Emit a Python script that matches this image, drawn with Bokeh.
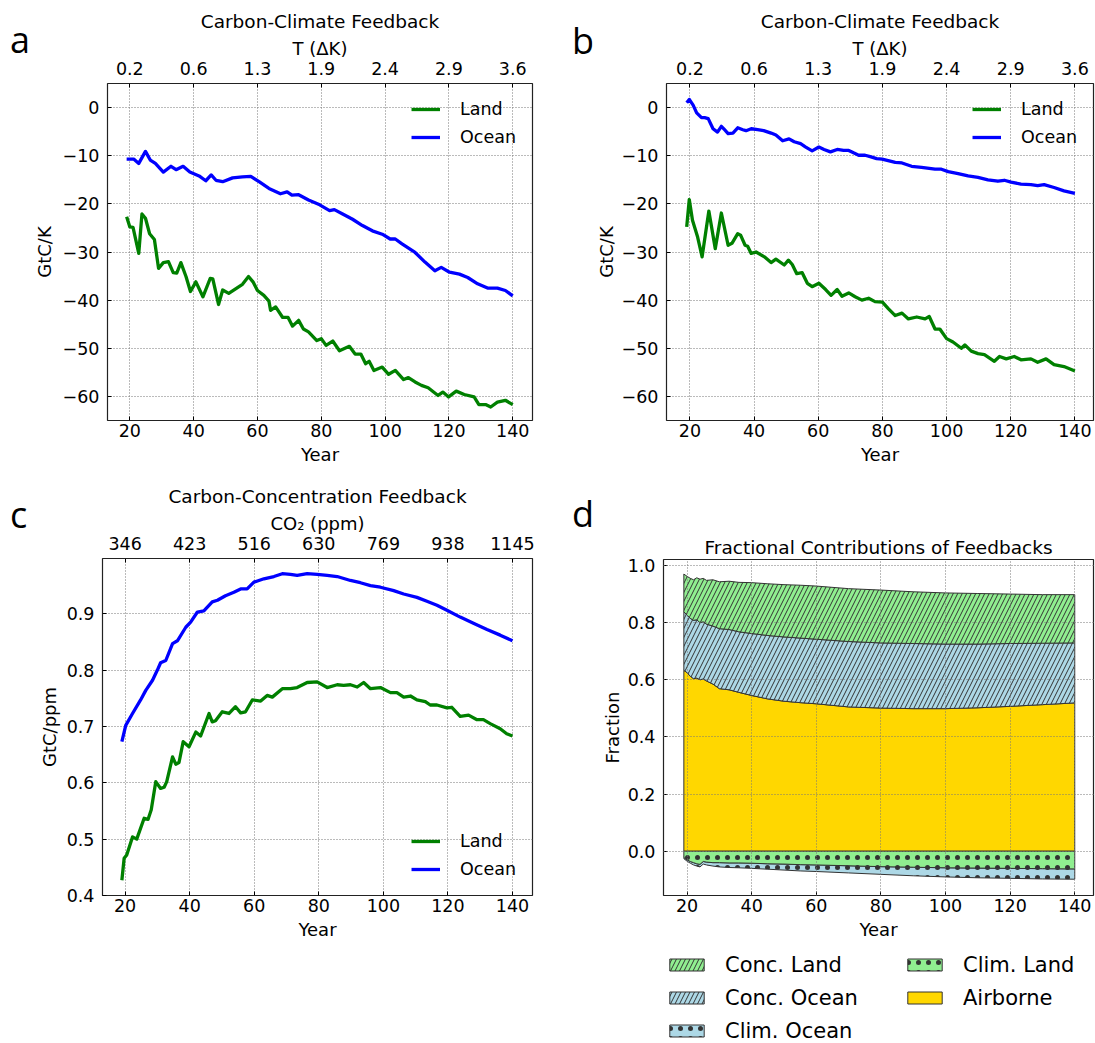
import numpy as np
from bokeh.plotting import figure
from bokeh.models import LinearAxis, FixedTicker, Legend, LegendItem, Range1d, Div
from bokeh.layouts import row, column
from bokeh.embed import file_html
from bokeh.resources import INLINE

FONT = "DejaVu Sans"
TICK_SIZE = "17.5px"
TITLE_SIZE = "18.5px"
LABEL_SIZE = "18px"

# ---------------- data ----------------
year_ticks = [20, 40, 60, 80, 100, 120, 140]
temp_tick_labels = ["0.2", "0.6", "1.3", "1.9", "2.4", "2.9", "3.6"]
co2_tick_labels = ["346", "423", "516", "630", "769", "938", "1145"]

# panel a (Carbon-Climate Feedback, GtC/K)
a_ocean_year = [19, 21.2, 22.8, 24.9, 26.4, 28.0, 30.5, 32.9, 34.5, 36.7, 38.8, 41.7, 43.8, 45.5, 47.0,
                49.1, 52.2, 55.3, 57.9, 60.5, 63.6, 67.2, 69.3, 70.8, 72.9, 76.0, 79.5, 82.6, 84.1, 86.7,
                89.8, 92.9, 96.0, 99.1, 101.6, 103.2, 105.3, 109.4, 112.5, 115.6, 117.6, 120.2, 123.3,
                125.9, 129.0, 132.1, 135.2, 137.7, 140.0]
a_ocean = [-10.7, -10.7, -11.6, -9.1, -10.9, -11.6, -13.4, -12.2, -12.9, -12.2, -13.4, -14.2, -15.2, -14.0,
           -15.1, -15.4, -14.6, -14.4, -14.3, -15.4, -16.8, -17.9, -17.5, -18.2, -18.1, -19.2, -20.2, -21.4,
           -21.2, -22.1, -23.2, -24.5, -25.6, -26.3, -27.3, -27.3, -28.3, -30.1, -32.1, -33.9, -33.2, -34.2,
           -34.6, -35.3, -36.6, -37.5, -37.5, -38.0, -39.1]
a_land_year = [19, 20, 21, 22.8, 23.8, 24.9, 26.2, 27.7, 29.0, 30.5, 32.1, 33.6, 34.7, 36.0, 37.6, 39.0,
               40.7, 42.9, 45.2, 46.0, 47.8, 49.1, 51.0, 55.3, 57.2, 58.6, 60.0, 62.0, 63.6, 64.1, 65.7,
               67.9, 69.6, 71.0, 72.9, 74.4, 76.0, 78.6, 80.0, 81.5, 83.6, 85.7, 88.8, 90.6, 92.4, 93.9,
               95.0, 96.5, 99.1, 101.1, 103.2, 105.8, 107.3, 109.4, 111.4, 113.5, 116.6, 118.1, 119.9,
               122.3, 124.8, 127.9, 129.4, 131.5, 133.1, 135.2, 137.7, 140.0]
a_land = [-22.7, -24.8, -24.9, -30.3, -22.1, -23.0, -26.2, -27.4, -33.4, -32.2, -32.0, -34.3, -34.4, -32.2,
          -35.1, -38.2, -36.2, -39.3, -35.5, -35.6, -40.9, -37.9, -38.6, -36.7, -35.1, -36.2, -38.0, -39.0,
          -40.2, -42.1, -41.4, -43.6, -43.6, -45.4, -44.2, -46.0, -46.6, -48.4, -48.0, -49.4, -48.5, -50.5,
          -49.6, -51.2, -51.2, -53.2, -52.7, -54.6, -53.9, -55.4, -54.6, -56.5, -56.1, -57.0, -57.7, -58.2,
          -59.8, -59.1, -60.1, -58.9, -59.6, -60.1, -61.7, -61.7, -62.2, -61.2, -60.8, -61.7]

# panel b (Carbon-Climate Feedback, GtC/K)
b_ocean_year = [19, 19.8, 21.0, 22.1, 23.6, 24.6, 25.7, 27.2, 28.6, 29.8, 30.8, 31.9, 33.4, 34.9, 36.5,
                37.5, 39.1, 41.1, 43.0, 45.3, 46.8, 48.9, 50.9, 52.5, 54.5, 56.1, 58.1, 60.2, 61.8, 63.8,
                65.9, 67.9, 69.5, 71.0, 72.6, 74.6, 76.2, 78.2, 79.9, 84.0, 86.1, 89.1, 92.2, 96.4, 98.4,
                100.5, 103.6, 106.7, 109.8, 112.9, 116.0, 118.0, 120.1, 123.2, 126.3, 128.4, 130.4, 133.5,
                136.6, 140.0]
b_ocean = [1.0, 1.7, 0.5, -1.1, -2.1, -2.1, -2.3, -4.4, -5.1, -3.9, -4.6, -5.4, -5.3, -4.2, -4.6, -4.8,
           -4.4, -4.6, -4.8, -5.3, -5.7, -6.9, -6.5, -7.1, -7.5, -8.2, -9.0, -8.2, -8.7, -9.2, -8.7, -8.9,
           -8.9, -9.4, -9.9, -9.9, -10.2, -10.6, -10.7, -11.4, -11.5, -12.2, -12.4, -12.8, -12.8, -13.3,
           -13.7, -14.2, -14.5, -15.0, -15.3, -15.1, -15.5, -15.9, -16.0, -16.2, -16.0, -16.6, -17.3, -17.8]
b_land_year = [19, 19.8, 20.8, 22.4, 23.8, 25.9, 27.9, 29.8, 31.9, 33.1, 34.9, 35.8, 37.2, 38.0, 39.1,
               40.6, 43.2, 45.3, 46.8, 49.4, 50.7, 51.9, 53.3, 55.0, 56.6, 58.1, 60.2, 62.3, 64.0, 65.9,
               67.4, 69.5, 71.5, 73.6, 75.7, 77.7, 80.0, 81.9, 84.0, 86.1, 88.1, 90.7, 93.3, 94.6, 96.4,
               97.9, 100.0, 102.0, 104.6, 105.7, 107.7, 109.8, 111.8, 114.9, 116.5, 118.6, 121.1, 123.2,
               126.3, 128.4, 131.0, 133.5, 136.6, 140.0]
b_land = [-24.8, -19.1, -23.4, -26.9, -31.0, -21.5, -29.3, -21.9, -28.6, -28.2, -26.2, -26.5, -28.6, -28.8,
          -30.3, -30.0, -31.0, -32.2, -31.5, -32.7, -31.7, -32.6, -34.5, -34.3, -36.5, -37.2, -36.5, -37.8,
          -39.0, -37.8, -39.2, -38.5, -39.3, -40.0, -39.6, -40.3, -40.4, -41.8, -43.2, -42.7, -43.9, -43.5,
          -43.9, -43.4, -46.0, -46.0, -48.0, -48.7, -50.0, -49.3, -50.6, -51.1, -51.3, -52.7, -51.7, -52.2,
          -51.7, -52.4, -52.2, -52.9, -52.2, -53.4, -53.8, -54.7]

# panel c (Carbon-Concentration Feedback, GtC/ppm)
c_ocean_year = [19, 20.2, 22.3, 24.8, 26.4, 28.5, 30.0, 31.0, 32.6, 34.7, 36.2, 38.8, 40.3, 42.4, 44.4,
                47.0, 48.6, 51.1, 53.7, 55.8, 57.8, 59.9, 63.0, 66.1, 68.7, 71.2, 73.3, 76.4, 79.5, 82.6,
                85.7, 89.8, 92.9, 96.0, 99.1, 103.2, 106.3, 110.4, 113.5, 116.6, 119.7, 123.8, 127.9,
                132.1, 136.2, 140.0]
c_ocean = [0.673, 0.702, 0.723, 0.747, 0.764, 0.782, 0.800, 0.813, 0.817, 0.847, 0.852, 0.876, 0.885,
           0.903, 0.905, 0.921, 0.924, 0.932, 0.938, 0.944, 0.944, 0.956, 0.962, 0.966, 0.971, 0.970,
           0.968, 0.971, 0.970, 0.968, 0.966, 0.959, 0.955, 0.950, 0.947, 0.941, 0.935, 0.929, 0.922,
           0.915, 0.906, 0.894, 0.883, 0.872, 0.862, 0.852]
c_land_year = [19, 19.7, 20.5, 22.3, 23.6, 25.9, 27.1, 28.1, 29.5, 31.0, 32.1, 32.9, 34.7, 35.7, 36.7,
               38.0, 39.8, 41.9, 43.4, 46.0, 47.0, 48.0, 50.1, 52.2, 54.2, 55.8, 57.3, 59.4, 62.0, 64.0,
               65.6, 68.7, 71.2, 73.3, 76.4, 79.5, 82.6, 85.7, 87.7, 89.8, 91.9, 93.9, 96.0, 99.1, 102.2,
               104.2, 106.3, 108.4, 110.4, 113.0, 114.5, 116.6, 119.7, 121.2, 123.8, 126.4, 129.0, 131.0,
               133.1, 136.2, 138.2, 140.0]
c_land = [0.427, 0.466, 0.472, 0.504, 0.500, 0.537, 0.535, 0.552, 0.602, 0.590, 0.592, 0.602, 0.646,
          0.633, 0.636, 0.673, 0.664, 0.690, 0.683, 0.723, 0.708, 0.710, 0.726, 0.723, 0.735, 0.724,
          0.726, 0.747, 0.745, 0.755, 0.752, 0.767, 0.767, 0.769, 0.778, 0.779, 0.769, 0.774, 0.773,
          0.774, 0.770, 0.778, 0.767, 0.769, 0.760, 0.760, 0.752, 0.754, 0.747, 0.744, 0.738, 0.738,
          0.733, 0.734, 0.718, 0.720, 0.712, 0.712, 0.705, 0.696, 0.687, 0.683]

# panel d (fractional contributions; stacked boundaries)
d_year = [19, 20, 21, 22, 23, 24, 25, 26, 28, 30, 33, 36, 40, 45, 50, 55, 60, 70, 80, 90, 100, 110,
          120, 130, 140]
d_airborne_top = [0.633, 0.625, 0.612, 0.604, 0.606, 0.600, 0.603, 0.596, 0.585, 0.569, 0.565, 0.556,
                  0.545, 0.533, 0.525, 0.520, 0.516, 0.505, 0.501, 0.499, 0.499, 0.502, 0.507, 0.513,
                  0.519]
d_conc_ocean_top = [0.838, 0.826, 0.815, 0.808, 0.810, 0.800, 0.803, 0.795, 0.788, 0.779, 0.776, 0.768,
                    0.762, 0.755, 0.750, 0.746, 0.742, 0.734, 0.729, 0.727, 0.725, 0.725, 0.727, 0.728,
                    0.729]
d_conc_land_top = [0.970, 0.962, 0.955, 0.950, 0.957, 0.952, 0.955, 0.948, 0.950, 0.943, 0.945, 0.941,
                   0.940, 0.936, 0.933, 0.931, 0.928, 0.919, 0.914, 0.908, 0.904, 0.902, 0.900, 0.898,
                   0.898]
d_clim_land_bottom = [-0.022, -0.030, -0.036, -0.040, -0.044, -0.046, -0.036, -0.038, -0.040, -0.040,
                      -0.041, -0.041, -0.042, -0.044, -0.045, -0.047, -0.048, -0.051, -0.054, -0.056,
                      -0.058, -0.059, -0.060, -0.061, -0.062]
d_clim_ocean_bottom = [-0.026, -0.035, -0.042, -0.048, -0.052, -0.055, -0.045, -0.048, -0.052, -0.055,
                       -0.057, -0.058, -0.060, -0.063, -0.066, -0.069, -0.071, -0.076, -0.081, -0.086,
                       -0.090, -0.093, -0.095, -0.097, -0.098]

LAND = "#008000"
OCEAN = "#0000ff"
LW = 3.3


def minus(v):
    s = ("%g" % abs(v))
    return ("\u2212" + s) if v < 0 else s


def overrides(ticks, labels):
    d = {}
    for t, l in zip(ticks, labels):
        d[t] = l
        d[str(t)] = l
    return d


def style_axis(ax, ticks, labels):
    ax.ticker = FixedTicker(ticks=ticks)
    ax.major_label_overrides = overrides(ticks, labels)
    ax.major_label_text_font = FONT
    ax.major_label_text_font_size = TICK_SIZE
    ax.major_label_text_color = "black"
    ax.axis_label_text_font = FONT
    ax.axis_label_text_font_size = LABEL_SIZE
    ax.axis_label_text_font_style = "normal"
    ax.axis_label_text_color = "black"
    ax.major_tick_in = 4
    ax.major_tick_out = 0
    ax.major_tick_line_color = "black"
    ax.minor_tick_line_color = None
    ax.axis_line_color = None


def make_fig(title, width, height, left, right, top, bottom, x_range, y_range, y_ticks, y_labels,
             ylabel, top_labels=None, top_axis_label=None):
    p = figure(width=width, height=height, x_range=x_range, y_range=y_range,
               output_backend="svg", toolbar_location=None, title=title,
               min_border_left=left, min_border_right=right, min_border_top=top,
               min_border_bottom=bottom)
    p.outline_line_color = "#222222"
    p.outline_line_width = 1.2
    p.background_fill_color = "white"
    p.border_fill_color = "white"
    p.title.text_font = FONT
    p.title.text_font_size = TITLE_SIZE
    p.title.text_font_style = "normal"
    p.title.align = "center"
    p.title.text_color = "black"
    p.title.standoff = 5
    for g in (p.xgrid, p.ygrid):
        g.grid_line_color = "#777777"
        g.grid_line_dash = "1 2"
        g.grid_line_width = 1
    p.xgrid.ticker = FixedTicker(ticks=year_ticks)
    p.ygrid.ticker = FixedTicker(ticks=y_ticks)

    xa = p.xaxis[0]
    style_axis(xa, year_ticks, [str(t) for t in year_ticks])
    xa.axis_label = "Year"
    xa.major_label_standoff = 3
    xa.axis_label_standoff = 4

    ya = p.yaxis[0]
    style_axis(ya, y_ticks, y_labels)
    ya.axis_label = ylabel
    ya.major_label_standoff = 8
    ya.axis_label_standoff = 4

    if top_labels is not None:
        ta = LinearAxis(axis_label=top_axis_label)
        style_axis(ta, year_ticks, top_labels)
        ta.major_label_standoff = 9
        ta.axis_label_standoff = 0
        p.add_layout(ta, "above")
    return p


def line_legend(p, r_land, r_ocean, loc):
    leg = Legend(items=[LegendItem(label="Land", renderers=[r_land]),
                        LegendItem(label="Ocean", renderers=[r_ocean])],
                 location=loc, border_line_color=None, background_fill_alpha=0,
                 label_text_font=FONT, label_text_font_size=TICK_SIZE, label_text_color="black",
                 glyph_width=29, glyph_height=20, label_height=20, label_standoff=20,
                 spacing=8, padding=8, margin=16)
    p.add_layout(leg)


def letter_div(txt, width, height, pad_left, pad_top):
    html = ('<div style="font-family:\'Open Sans\';font-size:36px;line-height:36px;'
            'color:black;padding-left:%dpx;padding-top:%dpx;">%s</div>' % (pad_left, pad_top, txt))
    return Div(text=html, width=width, height=height, margin=0)


ab_ticks = [-60, -50, -40, -30, -20, -10, 0]
ab_labels = [minus(v) for v in ab_ticks]

# ---- panel a
pa = make_fig("Carbon-Climate Feedback", 512, 472, 72, 10, 83, 52, Range1d(13.0, 146.2),
              Range1d(-65, 5), ab_ticks, ab_labels, "GtC/K", temp_tick_labels, "T (\u0394K)")
pa.yaxis[0].axis_label_standoff = 5
ra_l = pa.line(a_land_year, a_land, line_color=LAND, line_width=LW, line_join="round")
ra_o = pa.line(a_ocean_year, a_ocean, line_color=OCEAN, line_width=LW, line_join="round")
line_legend(pa, ra_l, ra_o, "top_right")

# ---- panel b
pb = make_fig("Carbon-Climate Feedback", 503, 472, 71, 2, 83, 52, Range1d(12.7, 145.8),
              Range1d(-65, 5), ab_ticks, ab_labels, "GtC/K", temp_tick_labels, "T (\u0394K)")
pb.yaxis[0].axis_label_standoff = 2
rb_l = pb.line(b_land_year, b_land, line_color=LAND, line_width=LW, line_join="round")
rb_o = pb.line(b_ocean_year, b_ocean, line_color=OCEAN, line_width=LW, line_join="round")
line_legend(pb, rb_l, rb_o, "top_right")

# ---- panel c
c_ticks = [0.4, 0.5, 0.6, 0.7, 0.8, 0.9]
c_labels = ["0.4", "0.5", "0.6", "0.7", "0.8", "0.9"]
pc = make_fig("Carbon-Concentration Feedback", 512, 571, 72, 10, 86, 148, Range1d(13.0, 146.2),
              Range1d(0.4, 0.998), c_ticks, c_labels, "GtC/ppm", co2_tick_labels, "CO\u2082 (ppm)")
rc_l = pc.line(c_land_year, c_land, line_color=LAND, line_width=LW, line_join="round")
rc_o = pc.line(c_ocean_year, c_ocean, line_color=OCEAN, line_width=LW, line_join="round")
line_legend(pc, rc_l, rc_o, "bottom_right")

# ---- panel d
d_ticks = [0.0, 0.2, 0.4, 0.6, 0.8, 1.0]
d_labels = ["0.0", "0.2", "0.4", "0.6", "0.8", "1.0"]
pd_ = make_fig("Fractional Contributions of Feedbacks", 503, 475, 71, 2, 87, 52,
               Range1d(12.7, 145.8), Range1d(-0.155, 1.021), d_ticks, d_labels, "Fraction")
pd_.title.standoff = 4
pd_.yaxis[0].axis_label_standoff = 2
pd_.xgrid.level = "annotation"
pd_.ygrid.level = "annotation"

yrs = np.array(d_year, dtype=float)
zero = np.zeros_like(yrs)
air = np.array(d_airborne_top)
cot = np.array(d_conc_ocean_top)
clt = np.array(d_conc_land_top)
cmb = np.array(d_clim_land_bottom)
cob = np.array(d_clim_ocean_bottom)


def band(lo, hi):
    return (np.concatenate([yrs, yrs[::-1]]).tolist(),
            np.concatenate([hi, lo[::-1]]).tolist())


EDGE = "#333333"
styles = {
    "Airborne": dict(fill_color="#FFD700"),
    "Conc. Ocean": dict(fill_color="#ADD8E6", hatch_pattern="/", hatch_scale=9),
    "Conc. Land": dict(fill_color="#90EE90", hatch_pattern="/", hatch_scale=9),
    "Clim. Ocean": dict(fill_color="#ADD8E6", hatch_pattern=".", hatch_scale=10),
    "Clim. Land": dict(fill_color="#90EE90", hatch_pattern=".", hatch_scale=10),
}
common = dict(line_color=EDGE, line_width=1, hatch_color=EDGE, hatch_weight=1)
bands = {
    "Airborne": (zero, air),
    "Conc. Ocean": (air, cot),
    "Conc. Land": (cot, clt),
    "Clim. Ocean": (cmb, cob),
    "Clim. Land": (zero, cmb),
}
for name in ["Airborne", "Conc. Ocean", "Conc. Land", "Clim. Ocean", "Clim. Land"]:
    lo, hi = bands[name]
    x, y = band(lo, hi)
    pd_.patch(x, y, **styles[name], **common)

# legend of panel d, in its own strip below the panel
lg = figure(width=503, height=96, x_range=Range1d(0, 1), y_range=Range1d(0, 1),
            output_backend="svg", toolbar_location=None, min_border=0,
            x_axis_type=None, y_axis_type=None)
lg.outline_line_color = None
lg.xgrid.visible = False
lg.ygrid.visible = False
lg.border_fill_color = "white"
key_r = {}
for name in styles:
    # key swatches only: the tiny shape lies outside the strip's visible range
    key_r[name] = lg.patch([5, 6, 6], [5, 5, 6], **styles[name], **common)

leg_kw = dict(border_line_color=None, background_fill_alpha=0, label_text_font=FONT,
              label_text_font_size="21px", label_text_color="black", glyph_width=43,
              glyph_height=15, label_height=25, label_standoff=17, spacing=8, padding=0, margin=0)
leg1 = Legend(items=[LegendItem(label=n, renderers=[key_r[n]])
                     for n in ["Conc. Land", "Conc. Ocean", "Clim. Ocean"]],
              location=(2, 0), **leg_kw)
leg2 = Legend(items=[LegendItem(label=n, renderers=[key_r[n]])
                     for n in ["Clim. Land", "Airborne"]],
              location=(240, 33), **leg_kw)
lg.add_layout(leg1)
lg.add_layout(leg2)

div_a = letter_div("a", 30, 472, 10, 22)
div_b = letter_div("b", 50, 472, 30, 23)
div_c = letter_div("c", 30, 571, 10, 25)
div_d = letter_div("d", 50, 571, 30, 24)

layout = column(row(div_a, pa, div_b, pb),
                row(div_c, pc, div_d, column(pd_, lg)))
open("out.html", "w").write(file_html(layout, INLINE))
